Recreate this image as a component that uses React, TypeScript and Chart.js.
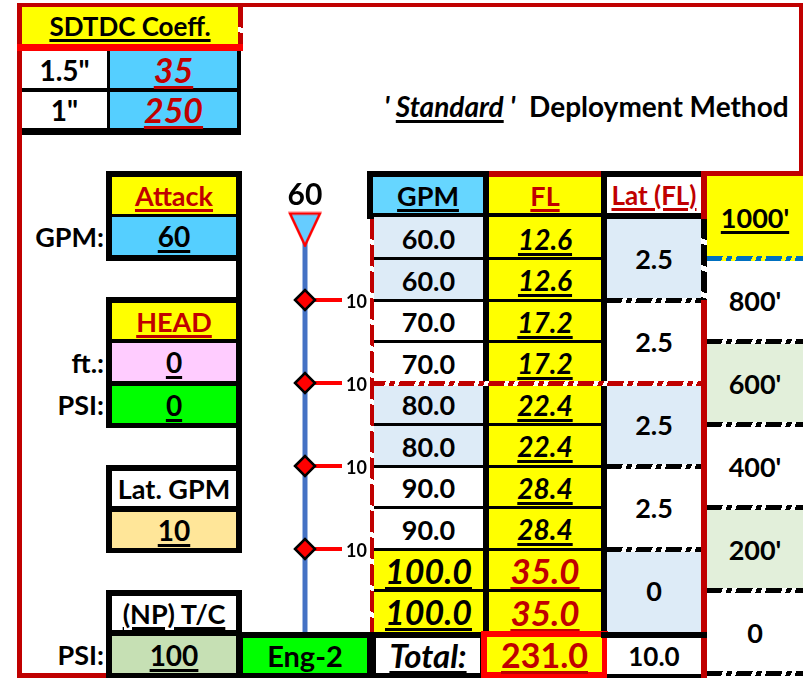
import React, { useEffect, useRef } from "react";
import { Chart, registerables } from "chart.js";
Chart.register(...registerables);

// ---------- data ----------
const coeffLabels = ['1.5"', '1"'];
const coeffValues = [35, 250];
const attackGpm = 60;
const headFt = 0;
const headPsi = 0;
const latGpm = 10;
const npPsi = 100;
const engineName = "Eng-2";
const gpmRows = [60, 60, 70, 70, 80, 80, 90, 90, 100, 100];
const flRows = [12.6, 12.6, 17.2, 17.2, 22.4, 22.4, 28.4, 28.4, 35.0, 35.0];
const latFlRows = [2.5, 2.5, 2.5, 2.5, 0];
const distanceLabels = ["1000'", "800'", "600'", "400'", "200'", "0"];
const lateralRowIdx = [2, 4, 6, 8];
const lateralGpms = [10, 10, 10, 10];
const nozzleRow = 0.3;
const totalFl = 231.0;
const totalLat = 10.0;

// ---------- layout / style ----------
const FONT = "Lato, 'Open Sans', sans-serif";
const DR = "#C00000";
const TOP = 217;
const RH = 41.5;
type S = React.CSSProperties;
const U: S = { textDecoration: "underline", textDecorationThickness: "2.5px", textUnderlineOffset: "3px" };
const dashH = (c: string, g: string) => `repeating-linear-gradient(110deg, ${c} 0 15px, ${g} 15px 19px, ${c} 19px 24px, ${g} 24px 28px)`;
const dashV = (c: string, g: string) => `repeating-linear-gradient(200deg, ${c} 0 20px, ${g} 20px 25px)`;

export default function App() {
  const ref = useRef<HTMLCanvasElement>(null);

  useEffect(() => {
    const tri = document.createElement("canvas");
    tri.width = 34;
    tri.height = 36;
    const c = tri.getContext("2d")!;
    c.beginPath();
    c.moveTo(2, 2);
    c.lineTo(32, 2);
    c.lineTo(17, 34);
    c.closePath();
    c.fillStyle = "#66CCFF";
    c.fill();
    c.lineWidth = 2.5;
    c.strokeStyle = "#FF0000";
    c.stroke();

    // canvas placement; chart.js pads the area by the largest point overflow
    const cTop = 150, cH = 500, cLeft = 270, cW = 110, hoseX = 305;
    const ptR = 10, ptB = 2.5;
    const P = ptR + ptB;
    const aTop = cTop + P, aBot = cTop + cH - P, aLeft = cLeft + P, aRight = cLeft + cW - P;
    const yMin = -(TOP - aTop) / RH;
    const yMax = (aBot - TOP) / RH;

    const lateralPlugin = {
      id: "lateralStubs",
      beforeDatasetsDraw(chart: any) {
        const ctx = chart.ctx;
        const xs = chart.scales.x;
        const meta = chart.getDatasetMeta(1);
        ctx.save();
        ctx.strokeStyle = "#FF0000";
        ctx.lineWidth = 4;
        meta.data.forEach((p: any) => {
          ctx.beginPath();
          ctx.moveTo(p.x, p.y);
          ctx.lineTo(xs.getPixelForValue(37), p.y);
          ctx.stroke();
        });
        ctx.restore();
      },
      afterDatasetsDraw(chart: any) {
        const ctx = chart.ctx;
        const xs = chart.scales.x;
        const meta = chart.getDatasetMeta(1);
        ctx.save();
        ctx.fillStyle = "#000";
        ctx.font = `bold 18px ${FONT}`;
        ctx.textAlign = "left";
        ctx.textBaseline = "middle";
        meta.data.forEach((p: any, i: number) => {
          ctx.fillText(String(lateralGpms[i]), xs.getPixelForValue(41), p.y + 2);
        });
        const n = chart.getDatasetMeta(2).data[0];
        ctx.font = `bold 30px ${FONT}`;
        ctx.textAlign = "center";
        ctx.textBaseline = "alphabetic";
        ctx.fillText(String(attackGpm), n.x, n.y - 24);
        ctx.restore();
      },
    };

    const chart = new Chart(ref.current!, {
      type: "scatter",
      data: {
        datasets: [
          {
            label: "hose",
            data: [{ x: 0, y: nozzleRow }, { x: 0, y: gpmRows.length }],
            showLine: true,
            borderColor: "#4472C4",
            borderWidth: 5,
            pointRadius: 0,
            order: 3,
          } as any,
          {
            label: "laterals",
            data: lateralRowIdx.map((r) => ({ x: 0, y: r })),
            pointStyle: "rectRot",
            pointRadius: ptR,
            backgroundColor: "#FF0000",
            borderColor: "#000",
            borderWidth: ptB,
            order: 1,
          },
          {
            label: "nozzle",
            data: [{ x: 0, y: nozzleRow }],
            pointStyle: tri as any,
            order: 0,
          },
        ],
      },
      options: {
        animation: false,
        responsive: false,
        devicePixelRatio: 1,
        events: [],
        layout: { padding: 0 },
        plugins: { legend: { display: false }, tooltip: { enabled: false } },
        scales: {
          x: { type: "linear", display: false, min: aLeft - hoseX, max: aRight - hoseX },
          y: { type: "linear", display: false, reverse: true, min: yMin, max: yMax },
        },
      },
      plugins: [lateralPlugin],
    });
    return () => chart.destroy();
  }, []);

  const els: React.ReactNode[] = [];
  let key = 0;
  const R = (x: number, y: number, w: number, h: number, bg: string) =>
    els.push(<div key={key++} style={{ position: "absolute", left: x, top: y, width: w, height: h, background: bg }} />);
  const T = (x: number, y: number, w: number, h: number, content: React.ReactNode, st: S = {}) =>
    els.push(
      <div
        key={key++}
        style={{
          position: "absolute", left: x, top: y, width: w, height: h, display: "flex",
          alignItems: "center", justifyContent: "center", fontFamily: FONT, fontWeight: 700,
          whiteSpace: "nowrap", lineHeight: 1, color: "#000", fontSize: 27, ...st,
        }}
      >
        {content}
      </div>
    );

  // outer frame
  R(17, 3, 786, 4, DR);
  R(17, 3, 5, 675, DR);
  R(17, 673, 92, 5, DR);
  R(799, 3, 4, 170, DR);

  // SDTDC block
  R(22, 7, 218, 37, "#FFFF00");
  R(238, 7, 5, 37, dashV(DR, "#fff"));
  T(22, 7, 216, 37, "SDTDC Coeff.", { ...U, fontSize: 26 });
  R(17, 44, 226, 7, "#FF0000");
  R(22, 51, 219, 84, "#000");
  [0, 1].forEach((i) => {
    const y = i === 0 ? 51 : 92;
    const h = i === 0 ? 37 : 36;
    R(22, y, 85, h, "#fff");
    R(110, y, 127, h, "#55CFFF");
    T(22, y, 85, h, coeffLabels[i], { fontSize: 28 });
    T(110, y, 127, h, String(coeffValues[i]), { ...U, color: DR, fontStyle: "italic", fontSize: 34 });
  });

  // title
  els.push(
    <div key={key++} style={{ position: "absolute", left: 384, top: 90, height: 32, fontFamily: FONT, fontWeight: 700, fontSize: 28, whiteSpace: "nowrap", lineHeight: "32px" }}>
      <span style={{ fontStyle: "italic" }}>'&nbsp;</span>
      <span style={{ fontStyle: "italic", ...U }}>Standard</span>
      <span style={{ fontStyle: "italic" }}>&nbsp;'</span>
      <span>&nbsp;&nbsp;Deployment Method</span>
    </div>
  );

  // left panel
  R(106, 171, 136, 90, "#000");
  R(112, 177, 124, 37, "#FFFF00");
  R(112, 217, 124, 38, "#55CFFF");
  T(112, 177, 124, 37, "Attack", { ...U, color: DR });
  T(112, 217, 124, 38, String(attackGpm), { ...U, fontSize: 28 });
  T(18, 217, 86, 38, "GPM:", { justifyContent: "flex-end" });
  R(236, 261, 6, 36, "#000");

  R(106, 297, 136, 131, "#000");
  R(112, 303, 124, 36, "#FFFF00");
  R(112, 343, 124, 38, "#FFCCFF");
  R(112, 386, 124, 37, "#00FF00");
  T(112, 303, 124, 36, "HEAD", { ...U, color: DR });
  T(112, 343, 124, 38, String(headFt), { ...U, fontSize: 28 });
  T(112, 386, 124, 37, String(headPsi), { ...U, fontSize: 28 });
  T(18, 343, 86, 38, "ft.:", { justifyContent: "flex-end" });
  T(18, 386, 86, 37, "PSI:", { justifyContent: "flex-end" });
  R(236, 428, 6, 37, "#000");

  R(106, 465, 136, 88, "#000");
  R(112, 471, 124, 35, "#fff");
  R(112, 512, 124, 36, "#FFE699");
  T(112, 471, 124, 35, "Lat. GPM");
  T(112, 512, 124, 36, String(latGpm), { ...U, fontSize: 28 });

  R(106, 590, 136, 88, "#000");
  R(112, 596, 124, 34, "#fff");
  R(112, 636, 124, 37, "#C6E0B4");
  T(112, 596, 124, 34, "(NP) T/C", U);
  T(112, 636, 124, 37, String(npPsi), { ...U, fontSize: 28 });
  T(18, 636, 86, 37, "PSI:", { justifyContent: "flex-end" });

  R(237, 632, 136, 46, "#000");
  R(243, 638, 124, 35, "#00FF00");
  T(243, 638, 124, 35, engineName, { fontSize: 29 });

  // table headers
  R(367, 171, 122, 48, "#000");
  R(373, 177, 110, 36, "#66D6FF");
  T(373, 177, 110, 36, "GPM", U);
  R(483, 171, 124, 48, "#000");
  R(489, 171, 112, 6, DR);
  R(489, 177, 112, 36, "#FFFF00");
  T(489, 177, 112, 36, "FL", { ...U, color: DR });
  R(607, 171, 94, 48, "#000");
  R(607, 177, 94, 36, "#fff");
  T(607, 177, 94, 36, "Lat (FL)", { ...U, color: DR, fontSize: 26 });
  R(707, 171, 96, 5, DR);

  // body rows
  const last = lateralRowIdx[lateralRowIdx.length - 1];
  gpmRows.forEach((g, k) => {
    const y = TOP + RH * k;
    const p = Math.floor(k / 2);
    const hi = k >= last;
    R(374, y, 109, RH, hi ? "#FFFF00" : p % 2 === 0 ? "#DDEBF7" : "#fff");
    R(489, y, 112, RH, "#FFFF00");
    T(374, y + 1, 109, RH, g.toFixed(1), hi ? { ...U, fontStyle: "italic", fontSize: 34 } : { fontSize: 27 });
    T(489, y + 1, 112, RH, flRows[k].toFixed(1), hi ? { ...U, fontStyle: "italic", fontSize: 35, color: DR } : { ...U, fontStyle: "italic", fontSize: 28 });
    if (k > 0 && k !== 4) {
      R(370, y - 1.5, 113, 3, "#000");
      R(483, y - 1.5, 124, 3, "#000");
    }
  });
  R(483, 171, 6, 461, "#000");
  R(601, 171, 6, 461, "#000");
  R(370, 219, 4, 413, dashV(DR, "#fff"));

  latFlRows.forEach((v, j) => {
    const y = TOP + 2 * RH * j;
    R(607, y + (j === 0 ? 2 : 0), 94, 2 * RH - (j === 0 ? 2 : 0), j % 2 === 0 ? "#DDEBF7" : "#fff");
    T(607, y, 94, 2 * RH, String(v), { fontSize: 27 });
    if (j > 0 && j !== 2) R(607, y - 2.5, 94, 5, dashH("#000", "#fff"));
  });
  R(370, TOP + 4 * RH - 2.5, 331, 5, dashH(DR, "#fff"));

  R(701, 171, 6, 507, DR);
  R(701, 219, 6, 81, dashV("#000", "#fff"));

  const distFill = ["#FFFF00", "#fff", "#E2EFDA", "#fff", "#E2EFDA", "#fff"];
  distanceLabels.forEach((d, j) => {
    const c = TOP + 2 * RH * j;
    const top = j === 0 ? 176 : c - RH;
    const bot = c + RH;
    R(707, top, 96, bot - top, distFill[j]);
    T(707, c - 18, 96, 36, d, j === 0 ? { ...U, fontSize: 27 } : { fontSize: 27 });
  });
  distanceLabels.forEach((_, j) => {
    const bot = TOP + 2 * RH * j + RH;
    R(707, bot - 2.5, 96, 5, j === 0 ? dashH("#0070C0", "#FFFF00") : dashH("#000", "#fff"));
  });

  // totals row
  R(367, 632, 121, 46, "#000");
  R(376, 638, 104, 35, "#fff");
  T(376, 638, 104, 35, "Total:", { ...U, fontStyle: "italic", fontSize: 33 });
  R(481, 631, 127, 47, "#FF0000");
  R(487, 637, 115, 35, "#FFFF00");
  T(487, 637, 115, 36, totalFl.toFixed(1), { ...U, color: DR, fontSize: 34 });
  R(601, 632, 106, 6, "#000");
  R(607, 638, 94, 36, "#fff");
  R(607, 674, 94, 4, "#000");
  T(607, 638, 94, 36, totalLat.toFixed(1), { fontSize: 26 });

  return (
    <div style={{ position: "fixed", left: 0, top: 0, width: 803, height: 678, overflow: "hidden", background: "#fff" }}>
      {els}
      <canvas ref={ref} width={110} height={500} style={{ position: "absolute", left: 270, top: 150, width: 110, height: 500, zIndex: 5 }} />
    </div>
  );
}
